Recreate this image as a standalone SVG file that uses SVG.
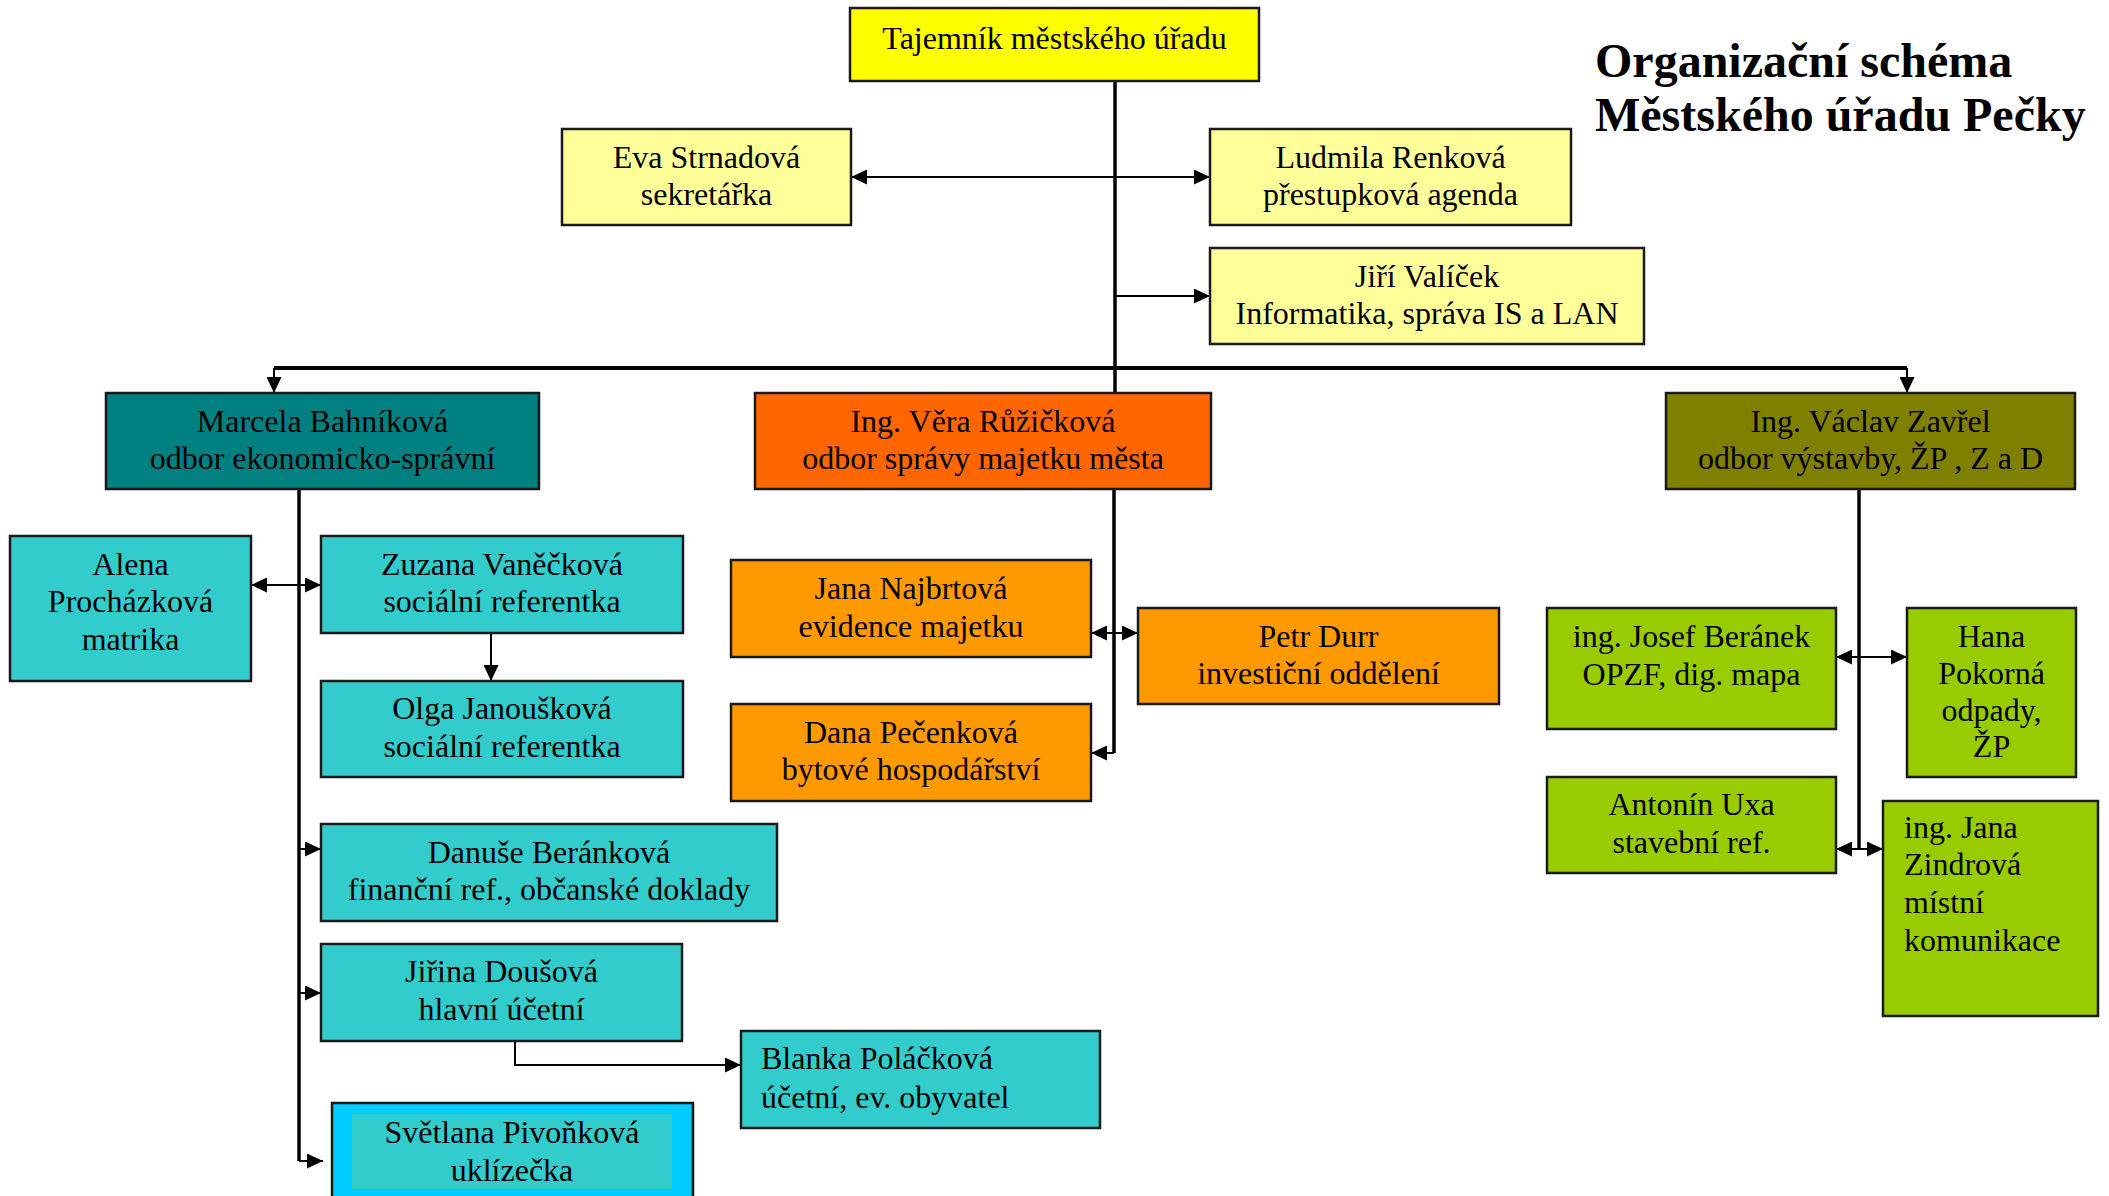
<svg xmlns="http://www.w3.org/2000/svg" width="2109" height="1196" viewBox="0 0 2109 1196">
<style>
.box{stroke:#1a1a1a;stroke-width:2.5}
.t{font-family:"Liberation Serif","Times New Roman",serif;font-size:32px;fill:#000;text-anchor:middle}
.tl{font-family:"Liberation Serif","Times New Roman",serif;font-size:32px;fill:#000;text-anchor:start}
.title{font-family:"Liberation Serif","Times New Roman",serif;font-size:48px;font-weight:bold;fill:#000}
.c{fill:none;stroke:#000;stroke-width:2}
.thick{fill:none;stroke:#000;stroke-width:3.5}
.y{fill:#FFFF00}.ly{fill:#FFFF99}.teal{fill:#008080}.red{fill:#FF6600}.olive{fill:#808000}
.cy{fill:#33CCCC}.or{fill:#FF9900}.gr{fill:#99CC00}
</style>
<defs>
<marker id="ah" markerUnits="userSpaceOnUse" markerWidth="16" markerHeight="15" refX="16" refY="7.5" orient="auto-start-reverse" viewBox="0 0 16 15">
<path d="M0,0 L16,7.5 L0,15 z" fill="#000"/>
</marker>
</defs>
<rect width="2109" height="1196" fill="#fff"/>

<g id="title">
<text class="title" x="1595" y="77">Organizační schéma</text>
<text class="title" x="1595" y="131">Městského úřadu Pečky</text>
</g>

<g id="connectors">
<path class="thick" d="M1115,81 V393"/>
<path class="c" d="M851,177 H1210" marker-start="url(#ah)" marker-end="url(#ah)"/>
<path class="c" d="M1115,296 H1210" marker-end="url(#ah)"/>
<path fill="none" stroke="#000" stroke-width="4" d="M274,368 H1907"/>
<path class="c" d="M274,368 V393" marker-end="url(#ah)"/>
<path class="c" d="M1907,368 V393" marker-end="url(#ah)"/>
<path class="thick" d="M299,489 V1161"/>
<path class="c" d="M251,585 H321" marker-start="url(#ah)" marker-end="url(#ah)"/>
<path class="c" d="M491,633 V681" marker-end="url(#ah)"/>
<path class="c" d="M299,849 H321" marker-end="url(#ah)"/>
<path class="c" d="M299,993 H321" marker-end="url(#ah)"/>
<path class="c" d="M515,1041 V1065 H741" marker-end="url(#ah)"/>
<path class="c" d="M299,1161 H323" marker-end="url(#ah)"/>
<path class="thick" d="M1114,489 V753"/>
<path class="c" d="M1091,633 H1138" marker-start="url(#ah)" marker-end="url(#ah)"/>
<path class="c" d="M1114,753 H1091" marker-end="url(#ah)"/>
<path class="thick" d="M1859,489 V849"/>
<path class="c" d="M1836,657 H1907" marker-start="url(#ah)" marker-end="url(#ah)"/>
<path class="c" d="M1836,849 H1883" marker-start="url(#ah)" marker-end="url(#ah)"/>
</g>

<g id="n-tajemnik">
<rect class="box y" x="850" y="8" width="409" height="73"/>
<text class="t" x="1054.5" y="49">Tajemník městského úřadu</text>
</g>
<g id="n-strnadova">
<rect class="box ly" x="562" y="129" width="289" height="96"/>
<text class="t" x="706.5" y="168">Eva Strnadová</text>
<text class="t" x="706.5" y="205">sekretářka</text>
</g>
<g id="n-renkova">
<rect class="box ly" x="1210" y="129" width="361" height="96"/>
<text class="t" x="1390.5" y="168">Ludmila Renková</text>
<text class="t" x="1390.5" y="205">přestupková agenda</text>
</g>
<g id="n-valicek">
<rect class="box ly" x="1210" y="248" width="434" height="96"/>
<text class="t" x="1427" y="287">Jiří Valíček</text>
<text class="t" x="1427" y="324">Informatika, správa IS a LAN</text>
</g>

<g id="n-bahnikova">
<rect class="box teal" x="106" y="393" width="433" height="96"/>
<text class="t" x="322.5" y="432">Marcela Bahníková</text>
<text class="t" x="322.5" y="469">odbor ekonomicko-správní</text>
</g>
<g id="n-ruzickova">
<rect class="box red" x="755" y="393" width="456" height="96"/>
<text class="t" x="983" y="432">Ing. Věra Růžičková</text>
<text class="t" x="983" y="469">odbor správy majetku města</text>
</g>
<g id="n-zavrel">
<rect class="box olive" x="1666" y="393" width="409" height="96"/>
<text class="t" x="1870.5" y="432">Ing. Václav Zavřel</text>
<text class="t" x="1870.5" y="469">odbor výstavby, ŽP , Z a D</text>
</g>

<g id="n-prochazkova">
<rect class="box cy" x="10" y="536" width="241" height="145"/>
<text class="t" x="130.5" y="575">Alena</text>
<text class="t" x="130.5" y="612">Procházková</text>
<text class="t" x="130.5" y="650">matrika</text>
</g>
<g id="n-vaneckova">
<rect class="box cy" x="321" y="536" width="362" height="97"/>
<text class="t" x="502" y="575">Zuzana Vaněčková</text>
<text class="t" x="502" y="612">sociální referentka</text>
</g>
<g id="n-janouskova">
<rect class="box cy" x="321" y="681" width="362" height="96"/>
<text class="t" x="502" y="719">Olga Janoušková</text>
<text class="t" x="502" y="757">sociální referentka</text>
</g>
<g id="n-berankova">
<rect class="box cy" x="321" y="824" width="456" height="97"/>
<text class="t" x="549" y="863">Danuše Beránková</text>
<text class="t" x="549" y="900">finanční ref., občanské doklady</text>
</g>
<g id="n-dousova">
<rect class="box cy" x="321" y="944" width="361" height="97"/>
<text class="t" x="501.5" y="982">Jiřina Doušová</text>
<text class="t" x="501.5" y="1020">hlavní účetní</text>
</g>
<g id="n-polackova">
<rect class="box cy" x="741" y="1031" width="359" height="97"/>
<text class="tl" x="761" y="1069">Blanka Poláčková</text>
<text class="tl" x="761" y="1108">účetní, ev. obyvatel</text>
</g>
<g id="n-pivonkova">
<rect class="box" fill="#00CCFF" x="332" y="1103" width="361" height="110"/>
<rect fill="#33CCCC" x="352" y="1114" width="320" height="75"/>
<text class="t" x="512" y="1143">Světlana Pivoňková</text>
<text class="t" x="512" y="1181">uklízečka</text>
</g>

<g id="n-najbrtova">
<rect class="box or" x="731" y="560" width="360" height="97"/>
<text class="t" x="911" y="599">Jana Najbrtová</text>
<text class="t" x="911" y="637">evidence majetku</text>
</g>
<g id="n-durr">
<rect class="box or" x="1138" y="608" width="361" height="96"/>
<text class="t" x="1318.5" y="647">Petr Durr</text>
<text class="t" x="1318.5" y="684">investiční oddělení</text>
</g>
<g id="n-pecenkova">
<rect class="box or" x="731" y="704" width="360" height="97"/>
<text class="t" x="911" y="743">Dana Pečenková</text>
<text class="t" x="911" y="780">bytové hospodářství</text>
</g>

<g id="n-beranek">
<rect class="box gr" x="1547" y="608" width="289" height="121"/>
<text class="t" x="1691.5" y="647">ing. Josef Beránek</text>
<text class="t" x="1691.5" y="685">OPZF, dig. mapa</text>
</g>
<g id="n-pokorna">
<rect class="box gr" x="1907" y="608" width="169" height="169"/>
<text class="t" x="1991.5" y="647">Hana</text>
<text class="t" x="1991.5" y="684">Pokorná</text>
<text class="t" x="1991.5" y="721">odpady,</text>
<text class="t" x="1991.5" y="757">ŽP</text>
</g>
<g id="n-uxa">
<rect class="box gr" x="1547" y="777" width="289" height="96"/>
<text class="t" x="1691.5" y="815">Antonín Uxa</text>
<text class="t" x="1691.5" y="853">stavební ref.</text>
</g>
<g id="n-zindrova">
<rect class="box gr" x="1883" y="801" width="215" height="215"/>
<text class="tl" x="1904" y="838">ing. Jana</text>
<text class="tl" x="1904" y="875">Zindrová</text>
<text class="tl" x="1904" y="913">místní</text>
<text class="tl" x="1904" y="951">komunikace</text>
</g>
</svg>
